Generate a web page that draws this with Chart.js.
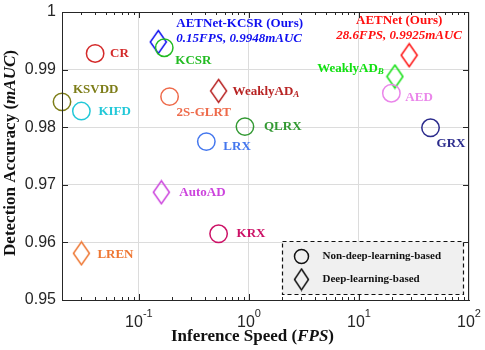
<!DOCTYPE html>
<html>
<head>
<meta charset="utf-8">
<script src="https://cdn.jsdelivr.net/npm/chart.js@4"></script>
<style>
  html, body { margin: 0; padding: 0; background: #fff; }
  #wrap { width: 485px; height: 350px; }
</style>
</head>
<body>
<div id="wrap"><canvas id="chart" width="485" height="350"></canvas></div>
<script>
// ---- data ----
const names = ['CR', 'KSVDD', 'KIFD', 'AETNet-KCSR (Ours)', 'KCSR', '2S-GLRT', 'WeaklyAD', 'LRX',
               'QLRX', 'AETNet (Ours)', 'WeaklyAD', 'AED', 'GRX', 'AutoAD', 'KRX', 'LREN'];
const subs  = ['', '', '', '', '', '', 'A', '', '', '', 'B', '', '', '', '', ''];
const fps   = [0.040, 0.020, 0.030, 0.15, 0.17, 0.19, 0.53, 0.41,
               0.92, 28.6, 21.2, 19.7, 44.7, 0.16, 0.53, 0.030];
const mauc  = [0.9928, 0.9844, 0.9828, 0.9948, 0.9938, 0.9853, 0.9863, 0.9775,
               0.9801, 0.9925, 0.9888, 0.9859, 0.9799, 0.9687, 0.9615, 0.9581];
const isDeep = [0, 0, 0, 1, 0, 0, 1, 0, 0, 1, 1, 0, 0, 1, 0, 1];
const ours   = [0, 0, 0, 1, 0, 0, 0, 0, 0, 1, 0, 0, 0, 0, 0, 0];
const xTicks = [0.1, 1, 10, 100];
const legendNames = ['Non-deep-learning-based', 'Deep-learning-based'];

// ---- styles ----
const colors = ['#d42a2a', '#7d7d18', '#22c8d8', '#1010f0', '#22bb22', '#ee6a4a', '#b82424', '#4477ee',
                '#339933', '#ff1010', '#11e011', '#ea86ea', '#2b2b8c', '#cc44dd', '#cc1166', '#ee7733'];
// label offset from the marker: [dx, dy, align]
const labelPos = [[15, 0, 'left'], [11, -12, 'left'], [17, 1, 'left'], [18, -18, 'left'],
                  [11, 13, 'left'], [7, 16, 'left'], [14, 1, 'left'], [17, 5, 'left'],
                  [19, 0, 'left'], [-10, -35, 'center'], [-11, -8, 'right'], [14, 4, 'left'],
                  [6, 16, 'left'], [18, 0, 'left'], [18, 0, 'left'], [16, 1, 'left']];
const AXIS = '#262626';
const SERIF = '"Liberation Serif", "DejaVu Serif", serif';
const SANS = '"Liberation Sans", Arial, sans-serif';

function diamond(color, w, h) {
  const c = document.createElement('canvas');
  c.width = w + 3; c.height = h + 3;
  const g = c.getContext('2d');
  g.strokeStyle = color; g.lineWidth = 1.5;
  g.beginPath();
  g.moveTo(c.width / 2, 1.5);
  g.lineTo(c.width - 1.5, c.height / 2);
  g.lineTo(c.width / 2, c.height - 1.5);
  g.lineTo(1.5, c.height / 2);
  g.closePath();
  g.stroke();
  return c;
}

const circIdx = [], diaIdx = [];
isDeep.forEach((d, i) => (d ? diaIdx : circIdx).push(i));

const datasets = [
  {
    label: legendNames[0],
    data: circIdx.map(i => ({ x: fps[i], y: mauc[i] })),
    pointStyle: 'circle',
    pointRadius: 8.7,
    pointBorderWidth: 1.5,
    pointBorderColor: circIdx.map(i => colors[i]),
    pointBackgroundColor: 'rgba(0,0,0,0)',
    showLine: false,
    clip: false
  },
  {
    label: legendNames[1],
    data: diaIdx.map(i => ({ x: fps[i], y: mauc[i] })),
    pointStyle: diaIdx.map(i => diamond(colors[i], 16, 23)),
    pointRadius: 10,
    showLine: false,
    clip: false
  }
];

function richText(ctx, parts, x, y, align) {
  let w = 0;
  parts.forEach(p => { ctx.font = p.font; p.w = ctx.measureText(p.t).width; w += p.w; });
  let cx = align === 'left' ? x : align === 'right' ? x - w : x - w / 2;
  ctx.textAlign = 'left';
  ctx.textBaseline = 'middle';
  parts.forEach(p => {
    ctx.font = p.font;
    ctx.fillText(p.t, cx, y + (p.dy || 0));
    cx += p.w;
  });
}

// no extra room for overflowing tick labels: keep the plot box where the figure has it
function noOverflow(s) {
  s.paddingTop = 0; s.paddingBottom = 0; s.paddingLeft = 0; s.paddingRight = 0;
}

const decor = {
  id: 'decor',
  afterDatasetsDraw(chart) {
    const ctx = chart.ctx;
    const xs = chart.scales.x, ys = chart.scales.y;
    const a = chart.chartArea;
    ctx.save();

    // method labels
    names.forEach((n, i) => {
      const px = xs.getPixelForValue(fps[i]);
      const py = ys.getPixelForValue(mauc[i]);
      const [dx, dy, al] = labelPos[i];
      ctx.fillStyle = colors[i];
      const parts = [{ t: n, font: 'bold 13px ' + SERIF }];
      if (subs[i]) parts.push({ t: subs[i], font: 'italic bold 9px ' + SERIF, dy: 3 });
      richText(ctx, parts, px + dx, py + dy, al);
      if (ours[i]) {
        richText(ctx, [{ t: fps[i] + 'FPS, ' + mauc[i] + 'mAUC', font: 'italic bold 13px ' + SERIF }],
          px + dx, py + dy + 15, al);
      }
    });

    // box and inward ticks
    ctx.strokeStyle = AXIS;
    ctx.lineWidth = 1;
    ctx.strokeRect(a.left + 0.5, a.top + 0.5, a.right - a.left - 1, a.bottom - a.top);
    ctx.beginPath();
    [0.01, 0.1, 1, 10].forEach(d => {
      for (let k = 1; k <= 9; k++) {
        const v = k * d;
        if (v <= xs.min || v >= xs.max) continue;
        const px = Math.round(xs.getPixelForValue(v)) + 0.5;
        const len = k === 1 ? 6 : 3;
        ctx.moveTo(px, a.bottom); ctx.lineTo(px, a.bottom - len);
        ctx.moveTo(px, a.top); ctx.lineTo(px, a.top + len);
      }
    });
    ys.ticks.forEach(t => {
      const py = Math.round(ys.getPixelForValue(t.value)) + 0.5;
      ctx.moveTo(a.left, py); ctx.lineTo(a.left + 6, py);
      ctx.moveTo(a.right, py); ctx.lineTo(a.right - 6, py);
    });
    ctx.stroke();

    // x tick labels with superscripts
    ctx.fillStyle = AXIS;
    xTicks.forEach(v => {
      const px = xs.getPixelForValue(v);
      const e = String(Math.round(Math.log10(v)));
      ctx.font = '16px ' + SANS;
      const wb = ctx.measureText('10').width;
      ctx.font = '11px ' + SANS;
      const we = ctx.measureText(e).width;
      const x0 = px - (wb + we) / 2;
      ctx.textAlign = 'left'; ctx.textBaseline = 'middle';
      ctx.font = '16px ' + SANS;
      ctx.fillText('10', x0, a.bottom + 23);
      ctx.font = '11px ' + SANS;
      ctx.fillText(e, x0 + wb, a.bottom + 14);
    });

    // axis titles
    ctx.fillStyle = '#111';
    richText(ctx, [
      { t: 'Inference Speed (', font: 'bold 17px ' + SERIF },
      { t: 'FPS', font: 'italic bold 17px ' + SERIF },
      { t: ')', font: 'bold 17px ' + SERIF }
    ], (a.left + a.right) / 2 - 13, 337, 'center');
    ctx.save();
    ctx.translate(11, 153);
    ctx.rotate(-Math.PI / 2);
    richText(ctx, [
      { t: 'Detection Accuracy (', font: 'bold 17px ' + SERIF },
      { t: 'mAUC', font: 'italic bold 17px ' + SERIF },
      { t: ')', font: 'bold 17px ' + SERIF }
    ], 0, 0, 'center');
    ctx.restore();

    // legend box
    const lx = 282.5, ly = 241.5, lw = 181, lh = 53;
    ctx.fillStyle = '#f0f0f0';
    ctx.fillRect(lx, ly, lw, lh);
    ctx.setLineDash([4, 3]);
    ctx.lineWidth = 1.2;
    ctx.strokeStyle = '#111';
    ctx.strokeRect(lx, ly, lw, lh);
    ctx.setLineDash([]);
    ctx.lineWidth = 1.5;
    ctx.beginPath();
    ctx.arc(lx + 19, ly + 15, 7, 0, Math.PI * 2);
    ctx.stroke();
    ctx.drawImage(diamond('#111', 14, 21), lx + 19 - 8.5, ly + 38 - 12);
    ctx.fillStyle = '#111';
    richText(ctx, [{ t: legendNames[0], font: 'bold 11px ' + SERIF }], lx + 40, ly + 15, 'left');
    richText(ctx, [{ t: legendNames[1], font: 'bold 11px ' + SERIF }], lx + 40, ly + 38, 'left');

    ctx.restore();
  }
};

new Chart(document.getElementById('chart'), {
  type: 'scatter',
  data: { datasets },
  options: {
    responsive: false,
    animation: false,
    events: [],
    layout: { padding: { top: 12, right: 16, left: 0, bottom: 0 } },
    plugins: { legend: { display: false }, tooltip: { enabled: false } },
    scales: {
      x: {
        type: 'logarithmic',
        min: 0.02,
        max: 100,
        afterBuildTicks: s => { s.ticks = xTicks.map(v => ({ value: v })); },
        afterFit: s => { s.height = 50; noOverflow(s); },
        ticks: { display: false },
        grid: { color: '#dcdcdc', lineWidth: 1, drawTicks: false },
        border: { color: AXIS }
      },
      y: {
        min: 0.95,
        max: 1,
        afterFit: s => { s.width = 62; noOverflow(s); },
        ticks: {
          stepSize: 0.01,
          padding: 6,
          color: AXIS,
          font: { family: SANS, size: 16 },
          callback: v => (Math.abs(v - 1) < 1e-6 ? '1' : v.toFixed(2))
        },
        grid: { color: '#dcdcdc', lineWidth: 1, drawTicks: false },
        border: { color: AXIS }
      }
    }
  },
  plugins: [decor]
});
</script>
</body>
</html>
